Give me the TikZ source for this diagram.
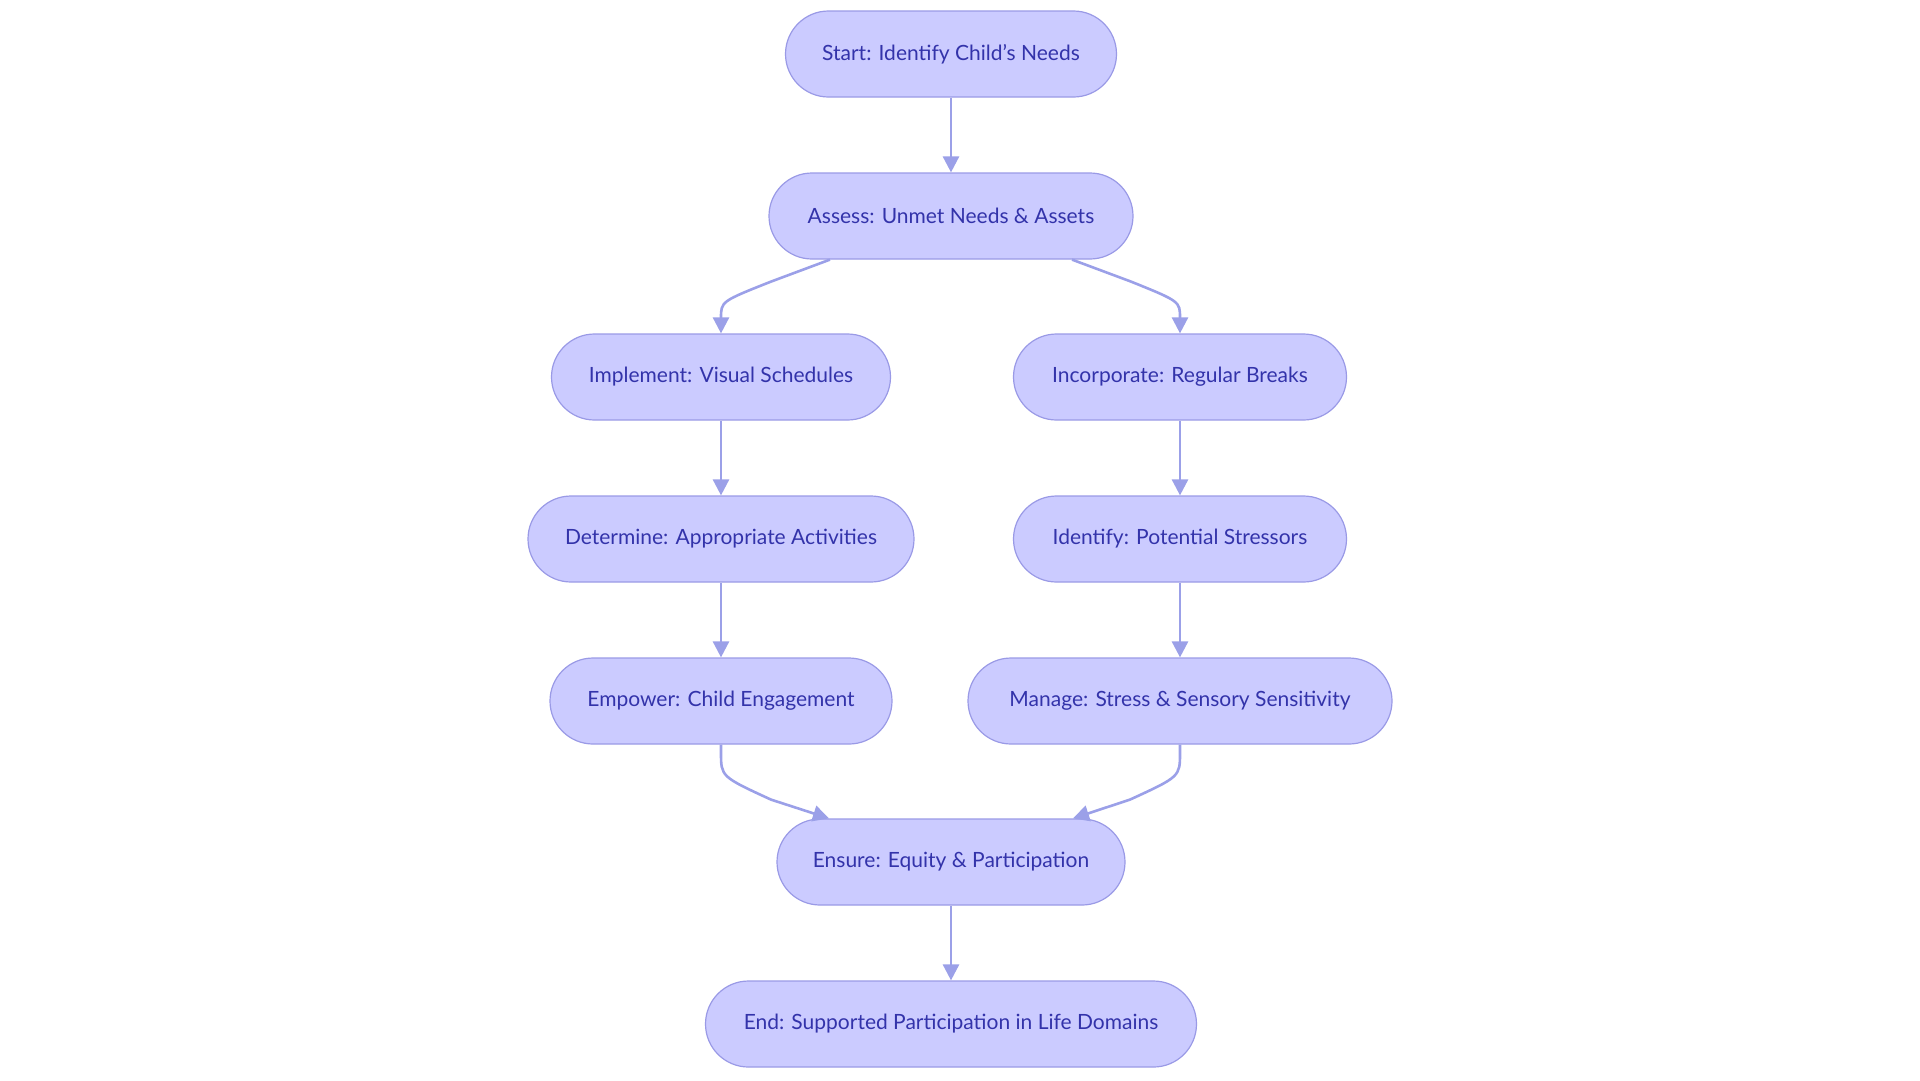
\documentclass[tikz,border=0pt]{standalone}
\usepackage{fontspec}
\setmainfont{Lato}
\usetikzlibrary{arrows.meta,calc}
\definecolor{nfill}{HTML}{CBCBFF}
\definecolor{nline}{HTML}{9A9AE6}
\definecolor{ntext}{HTML}{3333AA}
\definecolor{eline}{HTML}{9BA0E8}
\begin{document}
\begin{tikzpicture}[x=1pt,y=-1pt,
  box/.style={draw=nline,fill=nfill,line width=1.2pt,rounded corners=43pt,minimum height=86pt,text=ntext,font=\fontsize{21}{24}\selectfont,inner sep=0pt},
  e/.style={draw=eline,line width=2.6pt,-{Triangle[length=16pt,width=16pt]}}]
\useasboundingbox (0,0) rectangle (1920,1080);
\node[box,minimum width=331pt] (s) at (951,54) {Start: Identify Child’s Needs};
\node[box,minimum width=364pt] (a) at (951,216) {Assess: Unmet Needs \& Assets};
\node[box,minimum width=339pt] (i) at (721,377) {Implement: Visual Schedules};
\node[box,minimum width=333pt] (r) at (1180,377) {Incorporate: Regular Breaks};
\node[box,minimum width=386pt] (d) at (721,539) {Determine: Appropriate Activities};
\node[box,minimum width=333pt] (p) at (1180,539) {Identify: Potential Stressors};
\node[box,minimum width=342pt] (m) at (721,701) {Empower: Child Engagement};
\node[box,minimum width=424pt] (g) at (1180,701) {Manage: Stress \& Sensory Sensitivity};
\node[box,minimum width=348pt] (q) at (951,862) {Ensure: Equity \& Participation};
\node[box,minimum width=491pt] (f) at (951,1024) {End: Supported Participation in Life Domains};
\draw[e] (s) -- (a);
\draw[e] ($(a.south)+(-121,0)$) -- ($(a.south)+(-180,22)$) .. controls ($(i.north)+(0,-32)$) .. (i.north);
\draw[e] ($(a.south)+(121,0)$) -- ($(a.south)+(180,22)$) .. controls ($(r.north)+(0,-32)$) .. (r.north);
\draw[e] (i) -- (d);
\draw[e] (d) -- (m);
\draw[e] (r) -- (p);
\draw[e] (p) -- (g);
\draw[e] (m.south) -- ($(m.south)+(0,8)$) .. controls ($(m.south)+(0,32)$) .. ($(m.south)+(50,55)$) -- ($(q.north)+(-122,0)$);
\draw[e] (g.south) -- ($(g.south)+(0,8)$) .. controls ($(g.south)+(0,32)$) .. ($(g.south)+(-50,55)$) -- ($(q.north)+(122,0)$);
\draw[e] (q) -- (f);
\end{tikzpicture}
\end{document}
